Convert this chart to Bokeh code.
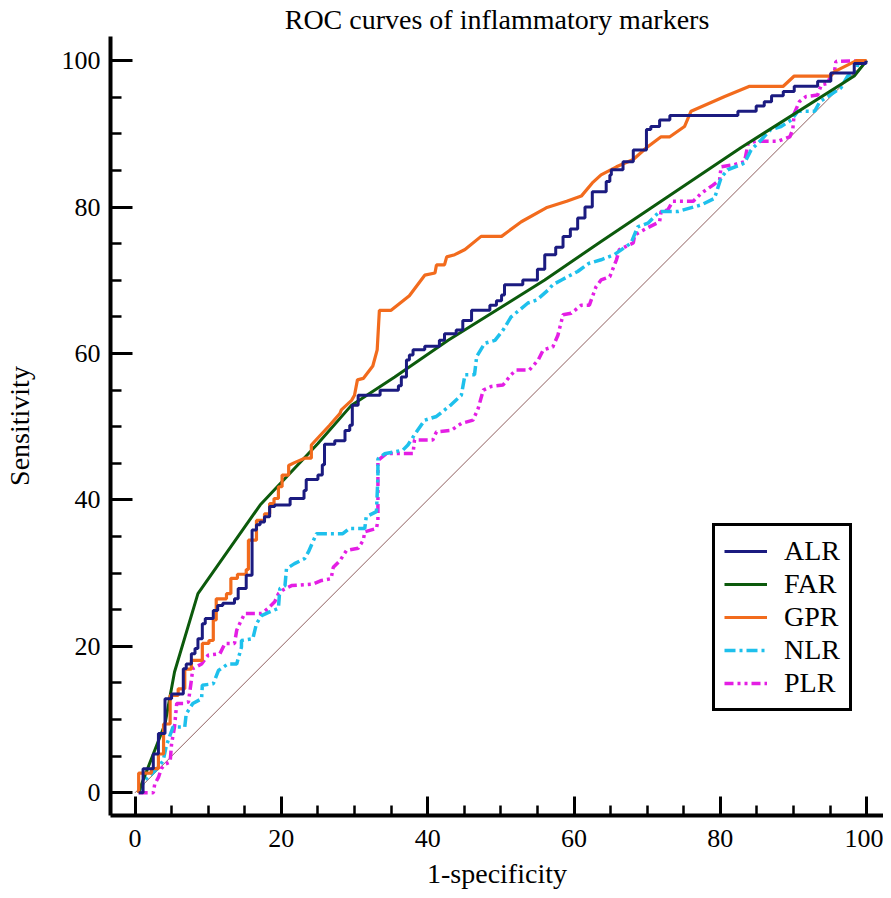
from bokeh.plotting import figure
from bokeh.models import Range1d, FixedTicker, Legend, LegendItem
from bokeh.embed import file_html
from bokeh.resources import INLINE

# ---------------- data (1-specificity %, sensitivity %) ----------------
x_ticks = [0, 20, 40, 60, 80, 100]
y_ticks = [0, 20, 40, 60, 80, 100]
minor_ticks = [5, 10, 15, 25, 30, 35, 45, 50, 55, 65, 70, 75, 85, 90, 95]

# ALR: step points (top of each vertical riser)
alr_fpr = [0.5, 1.1, 2.5, 3.2, 4.1, 5.0, 6.6, 7.0, 7.7, 8.2, 8.6, 9.2, 9.6, 10.7, 11.3, 12.0,
           13.6, 14.1, 15.2, 16.0, 16.6, 17.1, 17.7, 18.4, 19.1, 21.2, 23.1, 23.4, 25.0, 25.6,
           25.9, 27.3, 28.7, 29.35, 29.7, 30.5, 33.5, 36.0, 36.4, 37.1, 37.5, 38.0, 39.6, 41.6,
           42.3, 43.9, 44.8, 46.0, 48.5, 49.4, 50.1, 50.5, 53.0, 55.0, 56.0, 57.5, 58.5, 59.5,
           60.5, 61.5, 62.5, 64.4, 64.9, 65.1, 66.7, 68.1, 69.9, 70.5, 71.7, 73.1, 82.4, 84.9,
           86.0, 87.0, 88.6, 90.1, 93.3, 95.1, 98.3, 99.9]
alr_tpr = [0.0, 3.3, 5.3, 8.1, 12.85, 13.5, 16.95, 17.6, 19.0, 19.7, 21.05, 23.1, 23.8, 24.9, 25.6, 25.9,
           26.5, 27.9, 29.7, 35.9, 36.6, 37.0, 37.7, 39.1, 39.3, 40.2, 41.3, 42.8, 43.4, 44.8,
           47.6, 48.1, 49.5, 50.2, 52.95, 54.3, 55.0, 55.6, 56.8, 59.1, 59.8, 60.5, 61.0, 61.8,
           62.7, 63.2, 64.5, 65.9, 66.6, 67.2, 68.0, 69.4, 70.05, 71.5, 73.5, 74.5, 76.0, 77.0,
           78.5, 80.0, 82.1, 83.5, 84.4, 85.1, 86.2, 87.8, 90.6, 91.0, 91.9, 92.5, 93.1, 93.8,
           94.4, 95.2, 95.8, 96.5, 97.2, 98.3, 99.6, 100.0]

# FAR
far_fpr = [0.5, 0.9, 2.5, 4.1, 5.4, 8.6, 17.1, 25.0, 29.6, 35.5, 42.8, 56.0, 63.7, 82.8, 98.3, 100.0]
far_tpr = [0.0, 1.2, 5.3, 9.4, 16.5, 27.2, 39.3, 47.7, 52.95, 56.8, 61.8, 70.05, 75.3, 88.1, 97.9, 100.0]

# GPR
gpr_fpr = [0.5, 0.5, 2.25, 2.25, 3.2, 3.2, 3.9, 3.9, 4.8, 4.8, 5.9, 5.9, 6.8, 6.8, 7.7, 7.7,
           9.2, 9.2, 10.1, 10.1, 10.7, 10.7, 11.1, 11.1, 12.5, 12.5, 13.1, 13.1, 14.0, 14.0,
           15.2, 15.2, 15.5, 15.5, 16.6, 16.6, 17.7, 17.7, 18.4, 18.4, 19.0, 19.0, 19.6, 19.6,
           20.1, 20.1, 21.0, 21.0, 21.8, 23.2, 24.1, 24.1, 26.6, 28.0, 28.2, 29.6, 30.0, 30.4,
           31.2, 32.5, 33.1, 33.4, 35.0, 37.5, 39.6, 41.0, 41.2, 42.3, 42.6, 43.7, 45.1, 47.3,
           50.1, 52.8, 56.2, 59.0, 61.0, 62.5, 63.7, 65.8, 68.1, 69.9, 71.9, 73.1, 75.1, 76.0,
           80.6, 84.0, 88.6, 90.1, 95.1, 95.6, 98.6, 100.0]
gpr_tpr = [0.0, 2.7, 2.7, 3.3, 3.3, 5.3, 5.3, 9.4, 9.4, 13.3, 13.3, 14.2, 14.2, 16.9, 16.9, 18.1,
           18.1, 20.4, 20.4, 20.8, 20.8, 23.6, 23.6, 26.5, 26.5, 27.2, 27.2, 29.3, 29.3, 29.85,
           29.85, 30.5, 30.5, 34.5, 34.5, 37.2, 37.2, 38.1, 38.1, 39.5, 39.5, 40.2, 40.2, 41.8,
           41.8, 43.4, 43.4, 44.7, 45.1, 45.7, 45.7, 47.5, 50.2, 51.8, 52.3, 53.6, 54.3, 56.4,
           56.6, 58.3, 60.5, 65.9, 65.9, 67.9, 70.7, 71.0, 72.1, 72.1, 73.2, 73.5, 74.2, 76.0,
           76.0, 78.0, 79.9, 80.8, 81.5, 83.3, 84.4, 85.5, 86.5, 88.1, 89.6, 89.6, 91.0, 93.1,
           95.1, 96.5, 96.5, 97.9, 97.9, 98.5, 100.0, 100.0]

# NLR
nlr_fpr = [0.5, 1.3, 2.3, 3.2, 3.85, 4.3, 5.2, 6.8, 7.0, 7.9, 9.1, 9.2, 10.7, 11.4, 12.7, 13.9,
           14.55, 14.55, 16.1, 16.6, 17.3, 18.4, 19.6, 19.8, 20.5, 20.7, 21.8, 23.2, 23.7, 24.8,
           28.4, 29.3, 31.4, 31.6, 33.0, 33.2, 33.2, 34.1, 36.6, 37.3, 38.2, 39.6, 41.2, 43.2,
           44.6, 45.1, 46.4, 46.7, 47.8, 49.2, 50.3, 51.4, 53.7, 54.9, 56.5, 57.1, 58.3, 60.5,
           62.0, 63.7, 65.5, 67.8, 68.7, 70.1, 71.7, 74.2, 77.4, 79.2, 80.1, 81.0, 83.3, 84.2,
           85.6, 86.9, 88.3, 89.7, 90.6, 92.9, 93.6, 94.7, 96.5, 97.4, 98.6, 98.8, 100.0]
nlr_tpr = [0.0, 1.7, 2.6, 3.5, 4.4, 6.5, 9.0, 9.0, 10.8, 12.2, 12.85, 14.7, 14.9, 16.7, 17.6, 17.6,
           19.9, 20.8, 21.05, 23.1, 24.2, 24.7, 25.2, 27.9, 28.3, 30.6, 31.3, 32.0, 32.9, 35.4,
           35.4, 36.1, 36.1, 37.7, 38.4, 43.2, 45.6, 46.3, 46.8, 47.5, 48.9, 50.9, 51.4, 53.0,
           54.3, 57.1, 57.1, 59.6, 61.4, 61.8, 63.2, 65.0, 66.9, 67.3, 68.7, 69.4, 70.05, 71.2,
           72.3, 72.8, 73.5, 75.1, 77.3, 77.8, 79.4, 79.4, 80.3, 81.2, 84.0, 85.1, 86.0, 87.8,
           89.2, 90.6, 91.0, 91.9, 93.1, 93.1, 94.4, 95.1, 96.3, 97.9, 98.5, 99.6, 100.0]

# PLR
plr_fpr = [0.5, 2.5, 2.7, 3.2, 3.6, 4.1, 4.8, 5.0, 5.4, 5.7, 6.6, 7.3, 7.7, 7.9, 9.1, 10.0,
           11.6, 12.3, 13.6, 13.9, 14.3, 15.0, 17.3, 18.2, 19.1, 19.6, 20.2, 21.4, 24.3, 25.5,
           26.8, 27.1, 28.0, 28.9, 30.5, 31.2, 31.4, 33.0, 33.2, 33.2, 34.4, 38.0, 38.2, 40.7,
           41.2, 43.2, 44.6, 46.2, 46.9, 47.6, 48.7, 50.3, 51.4, 52.1, 53.9, 55.1, 55.8, 57.1,
           57.8, 58.5, 59.6, 61.0, 62.1, 63.0, 63.7, 64.9, 65.8, 66.2, 68.1, 68.3, 70.3, 71.7,
           71.9, 72.8, 73.5, 76.3, 77.4, 79.0, 79.9, 80.1, 81.9, 83.3, 83.8, 84.9, 87.9, 89.5,
           89.9, 90.1, 90.8, 91.7, 93.3, 93.8, 94.7, 95.1, 95.6, 95.8, 100.0]
plr_tpr = [0.0, 0.0, 1.2, 2.1, 3.3, 3.9, 4.2, 6.7, 9.0, 12.2, 12.2, 12.4, 15.35, 16.95, 17.6, 18.8,
           19.0, 20.4, 20.4, 22.2, 23.1, 24.5, 24.5, 25.2, 26.1, 27.2, 27.7, 28.3, 28.5, 29.0,
           29.25, 30.8, 31.7, 33.1, 33.4, 34.5, 35.65, 36.1, 37.2, 45.4, 46.35, 46.35, 48.2, 48.2,
           49.3, 49.5, 50.45, 50.9, 52.5, 55.0, 55.5, 55.7, 57.1, 57.75, 57.75, 59.1, 60.5, 60.9,
           62.5, 65.3, 65.5, 66.6, 66.6, 69.1, 70.05, 70.5, 72.8, 74.2, 75.1, 76.2, 77.3, 78.0,
           79.4, 79.6, 80.8, 80.8, 81.9, 83.0, 83.7, 85.5, 85.8, 86.2, 88.7, 89.0, 89.0, 89.6,
           90.6, 92.8, 94.4, 95.1, 95.3, 96.7, 96.9, 98.1, 98.5, 99.9, 100.0]

ref_x = [0, 100]
ref_y = [0, 100]

# ---------------- figure ----------------
FONT = "Liberation Serif"

p = figure(width=883, height=891, output_backend="svg", toolbar_location=None,
           x_range=Range1d(-3.35, 102.3), y_range=Range1d(-3.1, 103.3),
           min_border_left=105, min_border_right=0, min_border_top=36, min_border_bottom=0,
           background_fill_color="white", border_fill_color="white")
p.outline_line_color = None
p.grid.visible = False

p.title.text = "ROC curves of inflammatory markers"
p.title.text_font = FONT
p.title.text_font_size = "28px"
p.title.text_font_style = "normal"
p.title.text_color = "black"
p.title.align = "center"
p.title.vertical_align = "top"
p.title.standoff = 0

for ax, ticks, tin, mtin in ((p.xaxis[0], x_ticks, 19, 10), (p.yaxis[0], y_ticks, 22, 11)):
    ax.ticker = FixedTicker(ticks=ticks, minor_ticks=minor_ticks)
    ax.axis_line_width = 4
    ax.axis_line_color = "black"
    ax.major_tick_line_width = 3
    ax.major_tick_line_color = "black"
    ax.minor_tick_line_width = 2.5
    ax.minor_tick_line_color = "black"
    ax.major_tick_in = tin
    ax.major_tick_out = 0
    ax.minor_tick_in = mtin
    ax.minor_tick_out = 0
    ax.major_label_text_font = FONT
    ax.major_label_text_font_size = "26px"
    ax.major_label_text_color = "black"
    ax.axis_label_text_font = FONT
    ax.axis_label_text_font_size = "28px"
    ax.axis_label_text_font_style = "normal"
    ax.axis_label_text_color = "black"

p.xaxis.axis_label = "1-specificity"
p.yaxis.axis_label = "Sensitivity"
p.xaxis.major_label_standoff = 14
p.xaxis.axis_label_standoff = 8
p.yaxis.major_label_standoff = 10
p.yaxis.axis_label_standoff = 24

# reference diagonal
p.line(ref_x, ref_y, line_color="#8f5e5e", line_width=1)

r_plr = p.line(plr_fpr, plr_tpr, line_color="#e41ee4", line_width=3.5, line_dash="9 4 3 4 3 4")
r_nlr = p.line(nlr_fpr, nlr_tpr, line_color="#1ec0ec", line_width=3.5, line_dash="11 4 3 4")
r_far = p.line(far_fpr, far_tpr, line_color="#0c5a0c", line_width=3)
r_gpr = p.line(gpr_fpr, gpr_tpr, line_color="#f26b1d", line_width=3.2)
r_alr = p.step(alr_fpr, alr_tpr, mode="after", line_color="#1b1b80", line_width=3)

legend = Legend(items=[
    LegendItem(label="ALR", renderers=[r_alr]),
    LegendItem(label="FAR", renderers=[r_far]),
    LegendItem(label="GPR", renderers=[r_gpr]),
    LegendItem(label="NLR", renderers=[r_nlr]),
    LegendItem(label="PLR", renderers=[r_plr]),
], location=(602, 104))
legend.label_text_font = FONT
legend.label_text_font_size = "28px"
legend.label_text_color = "black"
legend.border_line_color = "black"
legend.border_line_alpha = 1
legend.border_line_width = 3
legend.background_fill_color = "white"
legend.background_fill_alpha = 1
legend.padding = 9
legend.spacing = 1
legend.margin = 0
legend.glyph_width = 43
legend.glyph_height = 28
legend.label_height = 28
legend.label_standoff = 17
p.add_layout(legend, "center")

open("out.html", "w").write(file_html(p, INLINE))
